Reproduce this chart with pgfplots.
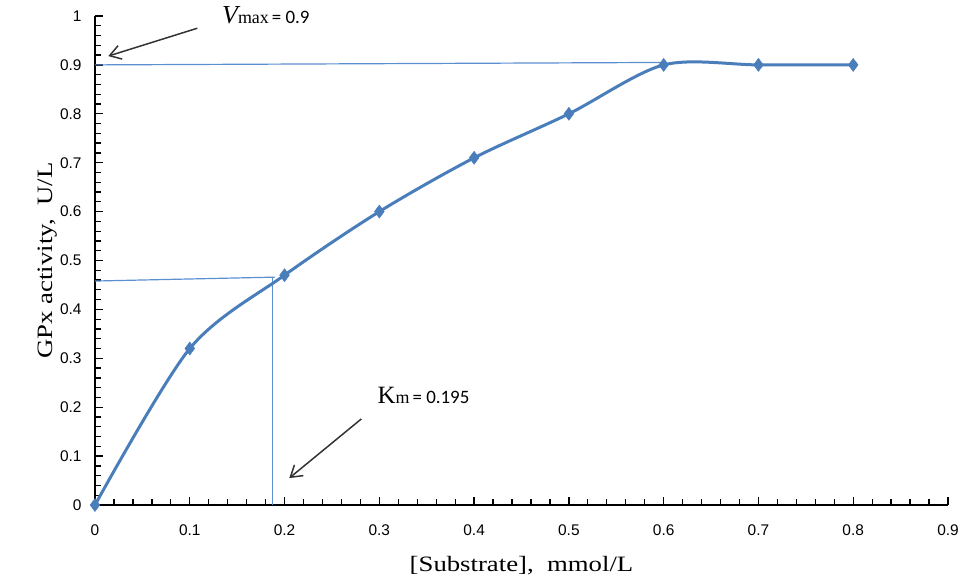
\documentclass[border=0pt]{standalone}
\usepackage{fontspec}
\setmainfont{Liberation Serif}
\newfontfamily\labelfont[FakeStretch=1.22]{Liberation Serif}
\newfontfamily\tickfont{Liberation Sans}
\newfontfamily\numfont{Carlito}
\usepackage{pgfplots}
\pgfplotsset{compat=1.18}
\usetikzlibrary{arrows.meta,calc}
\definecolor{serie}{HTML}{4A7EBB}
\definecolor{guide}{HTML}{5B8FD0}
\begin{document}
\begin{tikzpicture}
\begin{axis}[
  scale only axis,
  width=853bp, height=489bp,
  xmin=0, xmax=0.9, ymin=0, ymax=1,
  axis lines=left,
  axis line style={-, line width=1.5pt, black},
  xtick={0,0.1,...,0.9}, ytick={0,0.1,...,1},
  minor x tick num=4, minor y tick num=4,
  tick align=inside,
  major tick length=8bp, minor tick length=6bp,
  tick style={line width=1.3pt, black},
  /pgf/number format/assume math mode=true,
  /pgf/number format/fixed,
  /pgf/number format/precision=1,
  ticklabel style={font=\tickfont\fontsize{15.5}{17}\selectfont, text=black},
  xticklabel style={yshift=-16bp},
  yticklabel style={xshift=-10bp},
  xlabel={[Substrate],\ \ mmol/L},
  ylabel={GPx activity,\ \ U/L},
  label style={font=\labelfont\fontsize{22}{24}\selectfont},
  xlabel style={yshift=-14bp},
  ylabel style={yshift=-4bp},
  clip=false,
]
\coordinate (o) at (axis cs:0,0);
% guide lines
\addplot[guide, line width=1.2pt, forget plot] coordinates {(0,0.9) (0.6,0.905)};
\addplot[guide, line width=1.2pt, forget plot] coordinates {(0,0.458) (0.19,0.466)};
\addplot[guide, line width=1.2pt, forget plot] coordinates {(0.187,0) (0.187,0.466)};
% data
\addplot[serie, line width=3bp, smooth, tension=0.5, mark=diamond*, mark size=6.5bp,
  mark options={solid, fill=serie, line width=0.5pt}] coordinates {
  (0,0) (0.1,0.32) (0.2,0.47) (0.3,0.60) (0.4,0.71) (0.5,0.80) (0.6,0.90) (0.7,0.90) (0.8,0.90)
};
% arrows
\addplot[black!80, line width=1.5pt, -{Straight Barb[length=11bp,width=14bp]}, forget plot]
  coordinates {(0.108,0.975) (0.014,0.918)};
\addplot[black!80, line width=1.5pt, -{Straight Barb[length=11bp,width=14bp]}, forget plot]
  coordinates {(0.281,0.176) (0.205,0.055)};
\node[anchor=base west, inner sep=0pt] at (axis cs:0.134,0.985)
  {\fontsize{26}{28}\selectfont\itshape V\upshape\fontsize{18}{18}\selectfont max\,{\numfont\fontsize{19}{19}\selectfont = 0.9}};
\node[anchor=base west, inner sep=0pt] at (axis cs:0.298,0.207)
  {\fontsize{25}{28}\selectfont K\fontsize{18}{18}\selectfont m\,{\numfont\fontsize{19}{19}\selectfont = 0.195}};
\end{axis}
\pgfresetboundingbox
\path ($(o)+(-95bp,-82bp)$) rectangle ++(965bp,587bp);
\end{tikzpicture}
\end{document}
